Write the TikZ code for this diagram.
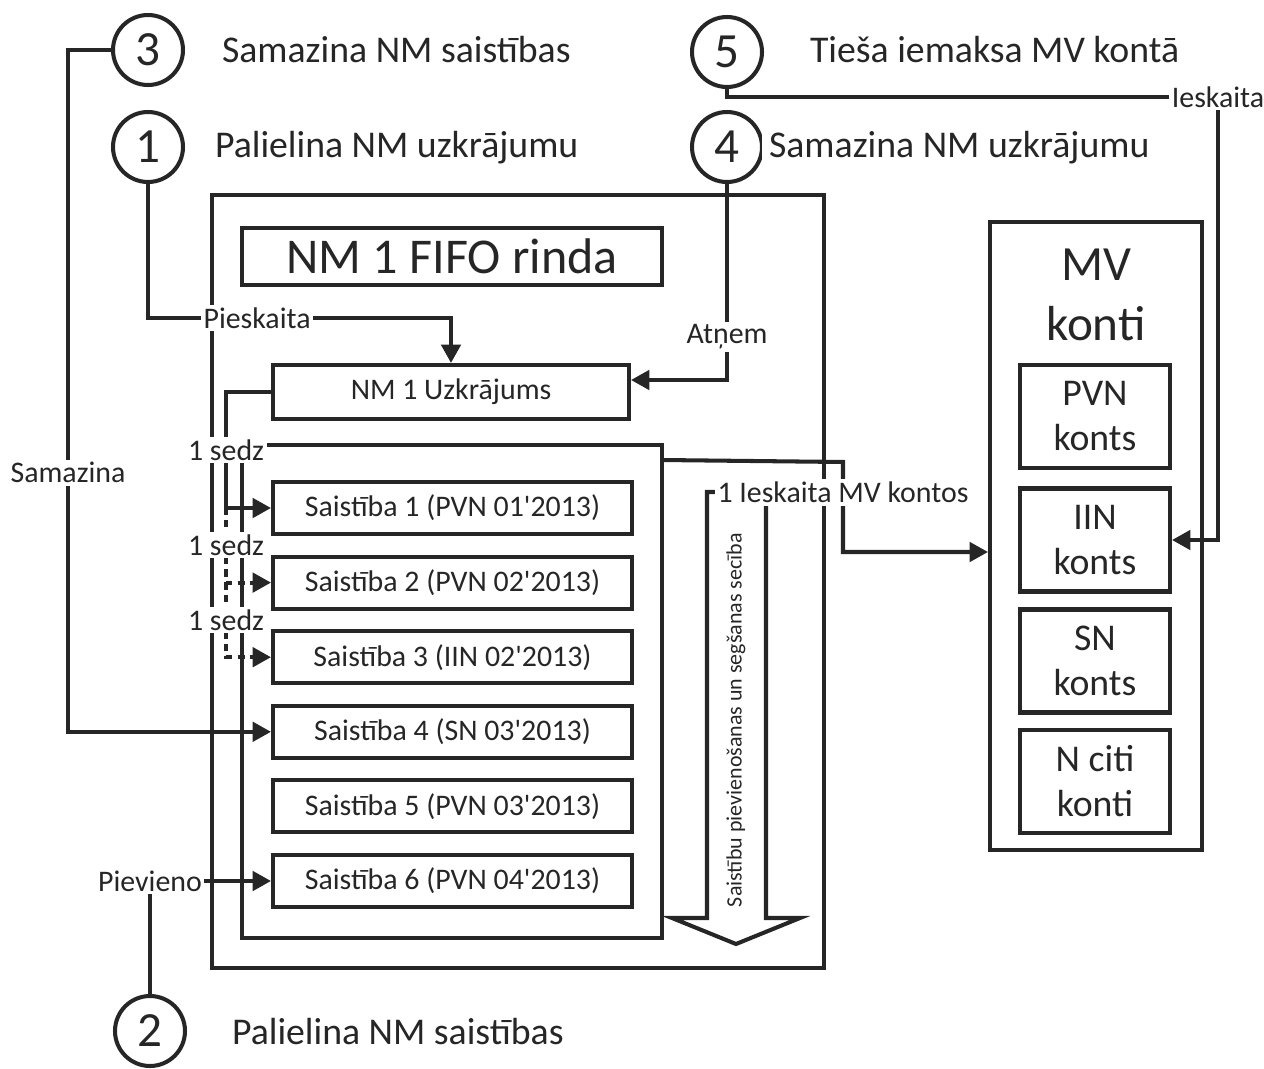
\documentclass[tikz,border=0pt]{standalone}
\usepackage{fontspec}
\setmainfont{Carlito}
\usetikzlibrary{arrows.meta,calc}
\definecolor{ink}{HTML}{262626}

\begin{document}
\begin{tikzpicture}[x=0.02cm, y=-0.02cm, line width=2.3pt, color=ink,
    box/.style={draw, rectangle, inner sep=0pt, align=center},
    num/.style={draw, circle, minimum size=1.4cm, inner sep=0pt, font=\fontsize{28pt}{32pt}\selectfont},
    head/.style={anchor=west, inner sep=0pt, fill=white, font=\fontsize{21.5pt}{26pt}\selectfont},
    small/.style={font=\fontsize{17pt}{20pt}\selectfont},
    lbl/.style={fill=white, inner sep=1.5pt, small},
    flow/.style={-{Triangle[length=10.5pt,width=11pt]}},
    dots/.style={dash pattern=on 4pt off 3pt}]
    \useasboundingbox (0,0) rectangle (1264,1068);

    % queue frames
    \node[box, minimum width=12.24cm, minimum height=15.46cm] at (518, 581.5)(fifo){};
    \node[box, minimum width=8.4cm, minimum height=1.14cm, font=\fontsize{28.5pt}{34pt}\selectfont] at (452, 256.5)(title){NM 1 FIFO rinda};
    \node[box, minimum width=7.12cm, minimum height=1.08cm, small] at (451, 392)(uzkr){NM 1 Uzkrājums};
    \node[box, minimum width=8.4cm, minimum height=9.86cm] at (452, 691.5)(queue){};
    \foreach \i/\txt in {1/PVN 01, 2/PVN 02, 3/IIN 02, 4/SN 03, 5/PVN 03, 6/PVN 04}
        \node[box, minimum width=7.18cm, minimum height=1.04cm, small] at (452.5, {508+74.6*(\i-1)})(s\i){Saistība \i\ (\txt\textquotesingle 2013)};

    % accounts
    \node[box, minimum width=4.24cm, minimum height=12.56cm] at (1096, 536)(mv){};
    \node[align=center, font=\fontsize{28pt}{34pt}\selectfont] at (1096, 295)(mvtitle){MV\\konti};
    \foreach \n/\txt/\y in {pvn/{PVN\\konts}/416.5, iin/{IIN\\konts}/540, sn/{SN\\konts}/661, citi/{N citi\\konti}/781.5}
        \node[box, minimum width=3cm, minimum height=2.06cm, font=\fontsize{21.5pt}{25.6pt}\selectfont] at (1095, \y)(\n){\txt};

    % operations
    \node[num] at (148, 50)(c3){3};
    \node[num] at (148, 147)(c1){1};
    \node[num] at (150, 1031)(c2){2};
    \node[num] at (727, 147)(c4){4};
    \node[num] at (727, 52)(c5){5};
    \node[head] at (220, 50)(h3){Samazina NM saistības};
    \node[head] at (213, 148)(h1){Palielina NM uzkrājumu};
    \node[head] at (230, 1032)(h2){Palielina NM saistības};
    \node[head] at (808, 50)(h5){Tieša iemaksa MV kontā};
    \node[head, inner xsep=4pt] at (760, 148)(h4){Samazina NM uzkrājumu};

    % order arrow
    \draw (707, 492) -- (766, 492) -- (766, 918) -- (800, 918) -- (736, 944) -- (672, 918) -- (707, 918) -- cycle;
    \node[rotate=90, font=\fontsize{12.5pt}{15pt}\selectfont] at (736, 720)(order){Saistību pievienošanas un segšanas secība};

    % connectors
    \coordinate (k3) at (68, 50);
    \coordinate (k1) at ($(uzkr.north)+(0,-45)$);
    \coordinate (k5) at (1218, 97);
    \coordinate (k6) at (843, 462);
    \coordinate (j0) at ($(uzkr.west)+(-45,0)$);

    \draw[flow] (c3.west) -- (k3) |- node[lbl, pos=0.31]{Samazina} (s4.west);
    \draw[flow] (c1.south) |- node[lbl, pos=0.68]{Pieskaita} (k1) -- (uzkr.north);
    \draw[flow] (c4.south) |- node[lbl, pos=0.39]{Atņem} ($(uzkr.east)+(0,-12)$);
    \draw[flow] (c2.north) |- node[lbl]{Pievieno} (s6.west);
    \draw[flow] (c5.south) |- (k5) node[lbl]{Ieskaita} |- (iin.east);

    \draw[flow] (uzkr.west) -- (j0) -- node[lbl]{1 sedz} (j0 |- s1.west) -- (s1.west);
    \draw[flow, dots] (j0 |- s1.west) -- node[lbl]{1 sedz} (j0 |- s2.west) -- (s2.west);
    \draw[flow, dots] (j0 |- s2.west) -- node[lbl]{1 sedz} (j0 |- s3.west) -- (s3.west);

    \draw[flow] ($(queue.north east)+(0,17)$) -- (k6) |- node[lbl, pos=0.17]{1 Ieskaita MV kontos} ($(mv.west)+(0,16)$);
\end{tikzpicture}
\end{document}
